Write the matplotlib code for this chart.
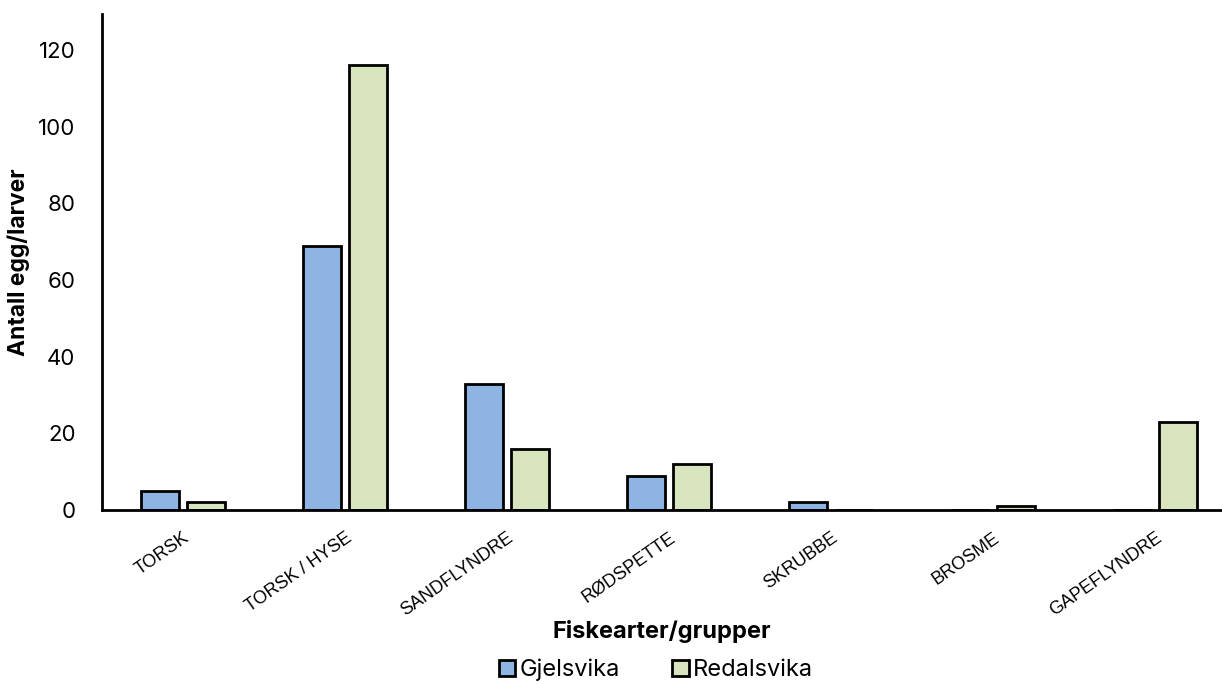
import numpy as np
import matplotlib.pyplot as plt

plt.rcParams['font.family'] = ['Inter', 'DejaVu Sans']

arter = ['TORSK', 'TORSK / HYSE', 'SANDFLYNDRE', 'RØDSPETTE', 'SKRUBBE', 'BROSME', 'GAPEFLYNDRE']
gjelsvika = [5, 69, 33, 9, 2, 0, 0]
redalsvika = [2, 116, 16, 12, 0, 1, 23]

fig = plt.figure(figsize=(12.22, 6.84), dpi=100)
ax = fig.add_axes([102/1222, 1 - 510/684, 1 - 102/1222, (510 - 14)/684])

x = np.arange(len(arter))
w = 0.235
ax.bar(x - 0.142, gjelsvika, w, color='#8EB4E3', edgecolor='black', linewidth=2, label='Gjelsvika')
ax.bar(x + 0.142, redalsvika, w, color='#D7E4BD', edgecolor='black', linewidth=2, label='Redalsvika')

ax.set_xlim(-0.5, 6.5 - 14/162)
ax.set_ylim(0, 129.4)
ax.set_yticks([0, 20, 40, 60, 80, 100, 120])
ax.tick_params(axis='y', length=0, labelsize=16, pad=19)
ax.tick_params(axis='x', length=0, pad=14)
ax.set_xticks(x)
ax.set_xticklabels(arter, rotation=35, ha='right', va='top', rotation_mode='anchor',
                   fontsize=13, family='Liberation Sans')

for s in ['top', 'right']:
    ax.spines[s].set_visible(False)
ax.spines['left'].set_linewidth(2)
ax.spines['bottom'].set_linewidth(2)

ax.set_ylabel('Antall egg/larver', fontsize=16.5, fontweight='bold')
ax.yaxis.set_label_coords(-72/1120, 0.5)
ax.set_xlabel('Fiskearter/grupper', fontsize=17, fontweight='bold')
ax.xaxis.set_label_coords(0.5, -110/496)

leg = fig.legend(loc='center', bbox_to_anchor=(656/1222, 1 - 670/684), ncol=2, frameon=False,
                 fontsize=17, handlelength=0.7, handleheight=0.7, handletextpad=0.2, columnspacing=2.2)

fig.savefig('out.png', dpi=100)
